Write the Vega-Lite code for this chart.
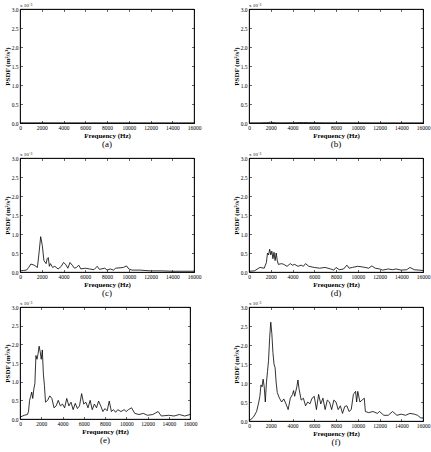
{
  "$schema": "https://vega.github.io/schema/vega-lite/v6.json",
  "padding": {"left": 2, "top": 2, "right": 2, "bottom": 1},
  "background": "white",
  "datasets": {
    "a": [{"f":0,"p":0.002},{"f":2000,"p":0.003},{"f":4000,"p":0.002},{"f":6000,"p":0.002},{"f":8000,"p":0.002},{"f":10000,"p":0.002},{"f":12000,"p":0.002},{"f":14000,"p":0.002},{"f":16000,"p":0.002}],
    "b": [{"f":0,"p":0.002},{"f":1000,"p":0.003},{"f":1600,"p":0.008},{"f":1800,"p":0.015},{"f":2000,"p":0.02},{"f":2200,"p":0.012},{"f":2500,"p":0.005},{"f":3000,"p":0.004},{"f":4000,"p":0.006},{"f":4500,"p":0.01},{"f":5000,"p":0.012},{"f":5500,"p":0.01},{"f":6000,"p":0.008},{"f":7000,"p":0.004},{"f":8000,"p":0.003},{"f":10000,"p":0.003},{"f":12000,"p":0.002},{"f":14000,"p":0.002},{"f":16000,"p":0.002}],
    "c": [{"f":0,"p":0.03},{"f":300,"p":0.04},{"f":600,"p":0.05},{"f":800,"p":0.12},{"f":1000,"p":0.21},{"f":1300,"p":0.18},{"f":1600,"p":0.12},{"f":1750,"p":0.5},{"f":1900,"p":0.93},{"f":2050,"p":0.7},{"f":2200,"p":0.3},{"f":2400,"p":0.22},{"f":2500,"p":0.35},{"f":2600,"p":0.38},{"f":2700,"p":0.15},{"f":2800,"p":0.22},{"f":3000,"p":0.12},{"f":3200,"p":0.15},{"f":3500,"p":0.08},{"f":3800,"p":0.15},{"f":4000,"p":0.25},{"f":4200,"p":0.2},{"f":4400,"p":0.1},{"f":4600,"p":0.25},{"f":4800,"p":0.18},{"f":5000,"p":0.1},{"f":5200,"p":0.12},{"f":5400,"p":0.18},{"f":5600,"p":0.08},{"f":6000,"p":0.1},{"f":6400,"p":0.08},{"f":6800,"p":0.06},{"f":7100,"p":0.15},{"f":7300,"p":0.07},{"f":7800,"p":0.1},{"f":8000,"p":0.05},{"f":8300,"p":0.08},{"f":8600,"p":0.05},{"f":8800,"p":0.1},{"f":9200,"p":0.11},{"f":9500,"p":0.12},{"f":9800,"p":0.16},{"f":10000,"p":0.08},{"f":10300,"p":0.05},{"f":11000,"p":0.05},{"f":12000,"p":0.03},{"f":13000,"p":0.03},{"f":14000,"p":0.02},{"f":15000,"p":0.02},{"f":16000,"p":0.02}],
    "d": [{"f":0,"p":0.02},{"f":500,"p":0.03},{"f":1000,"p":0.12},{"f":1400,"p":0.1},{"f":1600,"p":0.25},{"f":1700,"p":0.5},{"f":1800,"p":0.45},{"f":1900,"p":0.6},{"f":2000,"p":0.45},{"f":2100,"p":0.55},{"f":2200,"p":0.35},{"f":2300,"p":0.52},{"f":2400,"p":0.3},{"f":2500,"p":0.5},{"f":2600,"p":0.3},{"f":2700,"p":0.2},{"f":3000,"p":0.22},{"f":3200,"p":0.2},{"f":3500,"p":0.15},{"f":3800,"p":0.22},{"f":4000,"p":0.18},{"f":4200,"p":0.2},{"f":4500,"p":0.15},{"f":4800,"p":0.18},{"f":5000,"p":0.15},{"f":5200,"p":0.22},{"f":5500,"p":0.15},{"f":6000,"p":0.12},{"f":6500,"p":0.1},{"f":7000,"p":0.12},{"f":7500,"p":0.08},{"f":7800,"p":0.05},{"f":8000,"p":0.12},{"f":8300,"p":0.06},{"f":8700,"p":0.08},{"f":9000,"p":0.18},{"f":9200,"p":0.1},{"f":9500,"p":0.12},{"f":10000,"p":0.15},{"f":10500,"p":0.13},{"f":11000,"p":0.1},{"f":11300,"p":0.16},{"f":11600,"p":0.1},{"f":12000,"p":0.08},{"f":12300,"p":0.05},{"f":12800,"p":0.08},{"f":13200,"p":0.06},{"f":13500,"p":0.08},{"f":14000,"p":0.05},{"f":14500,"p":0.06},{"f":14800,"p":0.12},{"f":15200,"p":0.06},{"f":15600,"p":0.05},{"f":16000,"p":0.04}],
    "e": [{"f":0,"p":0.05},{"f":400,"p":0.1},{"f":700,"p":0.12},{"f":800,"p":0.2},{"f":900,"p":0.5},{"f":1000,"p":0.6},{"f":1100,"p":0.72},{"f":1200,"p":0.55},{"f":1300,"p":0.8},{"f":1400,"p":0.95},{"f":1500,"p":1.7},{"f":1600,"p":1.6},{"f":1700,"p":1.75},{"f":1800,"p":1.95},{"f":1900,"p":1.8},{"f":2000,"p":1.6},{"f":2100,"p":1.85},{"f":2200,"p":1.2},{"f":2300,"p":0.9},{"f":2400,"p":0.45},{"f":2600,"p":0.5},{"f":2800,"p":0.62},{"f":3000,"p":0.55},{"f":3200,"p":0.3},{"f":3400,"p":0.35},{"f":3600,"p":0.5},{"f":3800,"p":0.35},{"f":4000,"p":0.4},{"f":4200,"p":0.3},{"f":4400,"p":0.55},{"f":4600,"p":0.35},{"f":4800,"p":0.45},{"f":5000,"p":0.25},{"f":5200,"p":0.42},{"f":5400,"p":0.28},{"f":5600,"p":0.35},{"f":5800,"p":0.68},{"f":6000,"p":0.4},{"f":6200,"p":0.45},{"f":6400,"p":0.3},{"f":6600,"p":0.5},{"f":6800,"p":0.25},{"f":7000,"p":0.4},{"f":7200,"p":0.3},{"f":7400,"p":0.48},{"f":7600,"p":0.35},{"f":7800,"p":0.2},{"f":8000,"p":0.28},{"f":8200,"p":0.22},{"f":8400,"p":0.48},{"f":8600,"p":0.2},{"f":8800,"p":0.25},{"f":9000,"p":0.18},{"f":9200,"p":0.25},{"f":9500,"p":0.2},{"f":9800,"p":0.25},{"f":10000,"p":0.2},{"f":10200,"p":0.25},{"f":10500,"p":0.3},{"f":10800,"p":0.15},{"f":11200,"p":0.12},{"f":11600,"p":0.15},{"f":12000,"p":0.1},{"f":12500,"p":0.12},{"f":13000,"p":0.2},{"f":13300,"p":0.08},{"f":14000,"p":0.1},{"f":14500,"p":0.08},{"f":15000,"p":0.12},{"f":15500,"p":0.08},{"f":16000,"p":0.12}],
    "f": [{"f":0,"p":0.0},{"f":400,"p":0.1},{"f":700,"p":0.25},{"f":900,"p":0.5},{"f":1000,"p":0.65},{"f":1100,"p":0.95},{"f":1200,"p":0.9},{"f":1300,"p":1.1},{"f":1400,"p":0.9},{"f":1500,"p":0.5},{"f":1600,"p":1.0},{"f":1700,"p":1.3},{"f":1800,"p":1.6},{"f":1900,"p":2.2},{"f":2000,"p":2.6},{"f":2100,"p":2.3},{"f":2200,"p":1.8},{"f":2300,"p":1.5},{"f":2400,"p":1.4},{"f":2500,"p":1.0},{"f":2600,"p":0.75},{"f":2800,"p":0.6},{"f":3000,"p":0.5},{"f":3200,"p":0.58},{"f":3400,"p":0.45},{"f":3600,"p":0.3},{"f":3800,"p":0.6},{"f":4000,"p":0.7},{"f":4100,"p":0.8},{"f":4200,"p":0.65},{"f":4400,"p":0.9},{"f":4500,"p":1.08},{"f":4600,"p":0.85},{"f":4800,"p":0.55},{"f":5000,"p":0.6},{"f":5200,"p":0.4},{"f":5400,"p":0.5},{"f":5600,"p":0.45},{"f":5800,"p":0.6},{"f":6000,"p":0.65},{"f":6200,"p":0.3},{"f":6400,"p":0.7},{"f":6600,"p":0.45},{"f":6800,"p":0.6},{"f":7000,"p":0.3},{"f":7200,"p":0.55},{"f":7400,"p":0.5},{"f":7600,"p":0.3},{"f":7800,"p":0.55},{"f":8000,"p":0.5},{"f":8200,"p":0.3},{"f":8400,"p":0.4},{"f":8600,"p":0.2},{"f":8800,"p":0.38},{"f":9000,"p":0.4},{"f":9200,"p":0.25},{"f":9400,"p":0.3},{"f":9600,"p":0.7},{"f":9800,"p":0.78},{"f":9900,"p":0.5},{"f":10000,"p":0.78},{"f":10200,"p":0.5},{"f":10400,"p":0.55},{"f":10600,"p":0.6},{"f":10700,"p":0.25},{"f":11000,"p":0.22},{"f":11400,"p":0.25},{"f":11800,"p":0.2},{"f":12000,"p":0.25},{"f":12400,"p":0.15},{"f":12800,"p":0.15},{"f":13200,"p":0.25},{"f":13600,"p":0.15},{"f":14000,"p":0.18},{"f":14400,"p":0.15},{"f":14800,"p":0.2},{"f":15200,"p":0.18},{"f":15500,"p":0.15},{"f":15800,"p":0.08},{"f":16000,"p":0.08}]
  },
  "columns": 2,
  "spacing": {"row": 2, "column": 29},
  "concat": [
    {"width": 174, "height": 114, "title": "(a)", "resolve": {"axis": {"x": "independent", "y": "independent"}},
     "layer": [
      {"data": {"name": "a"}, "mark": {"type": "line", "color": "black", "strokeWidth": 0.8}, "encoding": {"x": {"field": "f", "type": "quantitative", "scale": {"domain": [0, 16000]}, "axis": {"orient": "bottom", "values": [0,2000,4000,6000,8000,10000,12000,14000,16000], "title": "Frequency (Hz)", "format": "d"}}, "y": {"field": "p", "type": "quantitative", "scale": {"domain": [0, 3]}, "axis": {"orient": "left", "values": [0,0.5,1,1.5,2,2.5,3], "title": "PSDF (m²/s³)"}}}},
      {"data": {"name": "a"}, "mark": {"type": "line", "opacity": 0}, "encoding": {"x": {"field": "f", "type": "quantitative", "axis": {"orient": "top", "labels": false, "title": null, "values": [0,2000,4000,6000,8000,10000,12000,14000,16000]}}, "y": {"field": "p", "type": "quantitative", "axis": {"orient": "right", "labels": false, "title": null, "values": [0,0.5,1,1.5,2,2.5,3]}}}},
      {"data": {"values": [{"label": "x 10⁻³"}]}, "mark": {"type": "text", "align": "left", "baseline": "bottom", "dy": -1, "fontSize": 5, "font": "Liberation Serif", "color": "black"}, "encoding": {"text": {"field": "label"}, "x": {"datum": 0, "axis": null}, "y": {"datum": 3, "axis": null}}}
     ]},
    {"width": 174, "height": 114, "title": "(b)", "resolve": {"axis": {"x": "independent", "y": "independent"}},
     "layer": [
      {"data": {"name": "b"}, "mark": {"type": "line", "color": "black", "strokeWidth": 0.8}, "encoding": {"x": {"field": "f", "type": "quantitative", "scale": {"domain": [0, 16000]}, "axis": {"orient": "bottom", "values": [0,2000,4000,6000,8000,10000,12000,14000,16000], "title": "Frequency (Hz)", "format": "d"}}, "y": {"field": "p", "type": "quantitative", "scale": {"domain": [0, 3]}, "axis": {"orient": "left", "values": [0,0.5,1,1.5,2,2.5,3], "title": "PSDF (m²/s³)"}}}},
      {"data": {"name": "b"}, "mark": {"type": "line", "opacity": 0}, "encoding": {"x": {"field": "f", "type": "quantitative", "axis": {"orient": "top", "labels": false, "title": null, "values": [0,2000,4000,6000,8000,10000,12000,14000,16000]}}, "y": {"field": "p", "type": "quantitative", "axis": {"orient": "right", "labels": false, "title": null, "values": [0,0.5,1,1.5,2,2.5,3]}}}},
      {"data": {"values": [{"label": "x 10⁻³"}]}, "mark": {"type": "text", "align": "left", "baseline": "bottom", "dy": -1, "fontSize": 5, "font": "Liberation Serif", "color": "black"}, "encoding": {"text": {"field": "label"}, "x": {"datum": 0, "axis": null}, "y": {"datum": 3, "axis": null}}}
     ]},
    {"width": 174, "height": 114, "title": "(c)", "resolve": {"axis": {"x": "independent", "y": "independent"}},
     "layer": [
      {"data": {"name": "c"}, "mark": {"type": "line", "color": "black", "strokeWidth": 0.8}, "encoding": {"x": {"field": "f", "type": "quantitative", "scale": {"domain": [0, 16000]}, "axis": {"orient": "bottom", "values": [0,2000,4000,6000,8000,10000,12000,14000,16000], "title": "Frequency (Hz)", "format": "d"}}, "y": {"field": "p", "type": "quantitative", "scale": {"domain": [0, 3]}, "axis": {"orient": "left", "values": [0,0.5,1,1.5,2,2.5,3], "title": "PSDF (m²/s³)"}}}},
      {"data": {"name": "c"}, "mark": {"type": "line", "opacity": 0}, "encoding": {"x": {"field": "f", "type": "quantitative", "axis": {"orient": "top", "labels": false, "title": null, "values": [0,2000,4000,6000,8000,10000,12000,14000,16000]}}, "y": {"field": "p", "type": "quantitative", "axis": {"orient": "right", "labels": false, "title": null, "values": [0,0.5,1,1.5,2,2.5,3]}}}},
      {"data": {"values": [{"label": "x 10⁻³"}]}, "mark": {"type": "text", "align": "left", "baseline": "bottom", "dy": -1, "fontSize": 5, "font": "Liberation Serif", "color": "black"}, "encoding": {"text": {"field": "label"}, "x": {"datum": 0, "axis": null}, "y": {"datum": 3, "axis": null}}}
     ]},
    {"width": 174, "height": 114, "title": "(d)", "resolve": {"axis": {"x": "independent", "y": "independent"}},
     "layer": [
      {"data": {"name": "d"}, "mark": {"type": "line", "color": "black", "strokeWidth": 0.8}, "encoding": {"x": {"field": "f", "type": "quantitative", "scale": {"domain": [0, 16000]}, "axis": {"orient": "bottom", "values": [0,2000,4000,6000,8000,10000,12000,14000,16000], "title": "Frequency (Hz)", "format": "d"}}, "y": {"field": "p", "type": "quantitative", "scale": {"domain": [0, 3]}, "axis": {"orient": "left", "values": [0,0.5,1,1.5,2,2.5,3], "title": "PSDF (m²/s³)"}}}},
      {"data": {"name": "d"}, "mark": {"type": "line", "opacity": 0}, "encoding": {"x": {"field": "f", "type": "quantitative", "axis": {"orient": "top", "labels": false, "title": null, "values": [0,2000,4000,6000,8000,10000,12000,14000,16000]}}, "y": {"field": "p", "type": "quantitative", "axis": {"orient": "right", "labels": false, "title": null, "values": [0,0.5,1,1.5,2,2.5,3]}}}},
      {"data": {"values": [{"label": "x 10⁻³"}]}, "mark": {"type": "text", "align": "left", "baseline": "bottom", "dy": -1, "fontSize": 5, "font": "Liberation Serif", "color": "black"}, "encoding": {"text": {"field": "label"}, "x": {"datum": 0, "axis": null}, "y": {"datum": 3, "axis": null}}}
     ]},
    {"width": 170, "height": 112, "title": "(e)", "resolve": {"axis": {"x": "independent", "y": "independent"}},
     "layer": [
      {"data": {"name": "e"}, "mark": {"type": "line", "color": "black", "strokeWidth": 0.8}, "encoding": {"x": {"field": "f", "type": "quantitative", "scale": {"domain": [0, 16000]}, "axis": {"orient": "bottom", "values": [0,2000,4000,6000,8000,10000,12000,14000,16000], "title": "Frequency (Hz)", "format": "d"}}, "y": {"field": "p", "type": "quantitative", "scale": {"domain": [0, 3]}, "axis": {"orient": "left", "values": [0,0.5,1,1.5,2,2.5,3], "title": "PSDF (m²/s³)"}}}},
      {"data": {"name": "e"}, "mark": {"type": "line", "opacity": 0}, "encoding": {"x": {"field": "f", "type": "quantitative", "axis": {"orient": "top", "labels": false, "title": null, "values": [0,2000,4000,6000,8000,10000,12000,14000,16000]}}, "y": {"field": "p", "type": "quantitative", "axis": {"orient": "right", "labels": false, "title": null, "values": [0,0.5,1,1.5,2,2.5,3]}}}},
      {"data": {"values": [{"label": "x 10⁻³"}]}, "mark": {"type": "text", "align": "left", "baseline": "bottom", "dy": -1, "fontSize": 5, "font": "Liberation Serif", "color": "black"}, "encoding": {"text": {"field": "label"}, "x": {"datum": 0, "axis": null}, "y": {"datum": 3, "axis": null}}}
     ]},
    {"width": 174, "height": 114, "title": "(f)", "resolve": {"axis": {"x": "independent", "y": "independent"}},
     "layer": [
      {"data": {"name": "f"}, "mark": {"type": "line", "color": "black", "strokeWidth": 0.8}, "encoding": {"x": {"field": "f", "type": "quantitative", "scale": {"domain": [0, 16000]}, "axis": {"orient": "bottom", "values": [0,2000,4000,6000,8000,10000,12000,14000,16000], "title": "Frequency (Hz)", "format": "d"}}, "y": {"field": "p", "type": "quantitative", "scale": {"domain": [0, 3]}, "axis": {"orient": "left", "values": [0,0.5,1,1.5,2,2.5,3], "title": "PSDF (m²/s³)"}}}},
      {"data": {"name": "f"}, "mark": {"type": "line", "opacity": 0}, "encoding": {"x": {"field": "f", "type": "quantitative", "axis": {"orient": "top", "labels": false, "title": null, "values": [0,2000,4000,6000,8000,10000,12000,14000,16000]}}, "y": {"field": "p", "type": "quantitative", "axis": {"orient": "right", "labels": false, "title": null, "values": [0,0.5,1,1.5,2,2.5,3]}}}},
      {"data": {"values": [{"label": "x 10⁻³"}]}, "mark": {"type": "text", "align": "left", "baseline": "bottom", "dy": -1, "fontSize": 5, "font": "Liberation Serif", "color": "black"}, "encoding": {"text": {"field": "label"}, "x": {"datum": 0, "axis": null}, "y": {"datum": 3, "axis": null}}}
     ]}
  ],
  "config": {
    "font": "Liberation Serif",
    "view": {"stroke": "black", "strokeWidth": 0.8},
    "axis": {"labelFont": "Liberation Serif", "labelFontSize": 5.5, "labelColor": "black", "titleFont": "Liberation Serif", "titleFontSize": 7, "titleFontWeight": "bold", "titleColor": "black", "domainColor": "black", "domainWidth": 0.8, "tickColor": "black", "tickWidth": 0.6, "grid": false, "tickSize": -2.5, "labelPadding": 4.5, "titlePadding": 1, "labelFlush": false, "labelOverlap": false},
    "title": {"font": "Liberation Serif", "fontSize": 9, "fontWeight": "normal", "color": "black", "orient": "bottom", "anchor": "middle", "offset": 1}
  }
}
